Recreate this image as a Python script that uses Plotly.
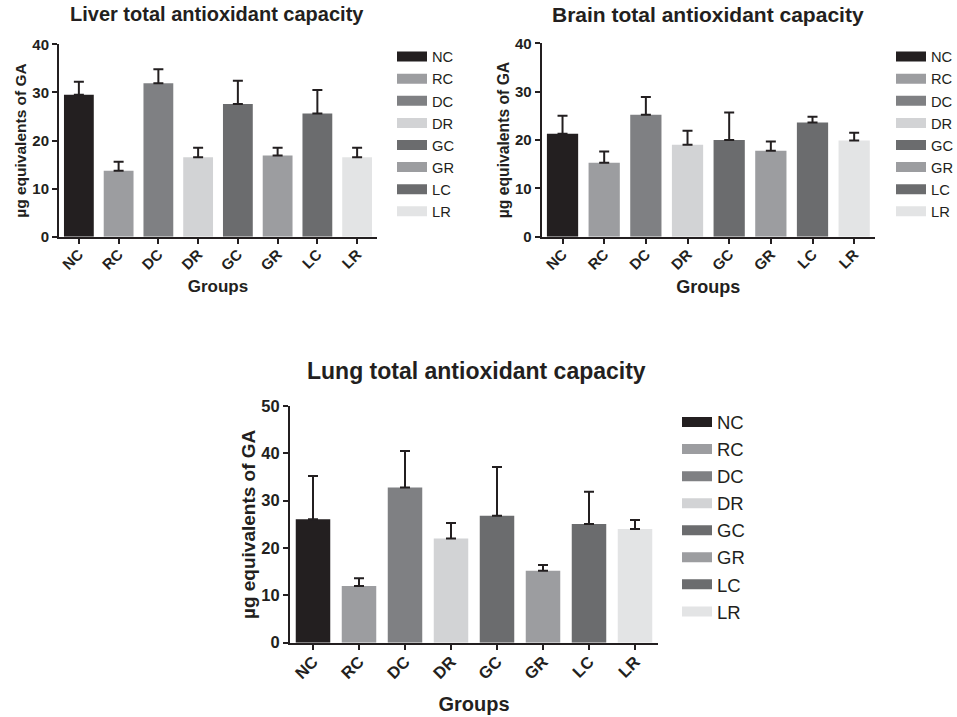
import plotly.graph_objects as go

groups = ["NC", "RC", "DC", "DR", "GC", "GR", "LC", "LR"]
liver_mean = [29.5, 13.7, 31.9, 16.5, 27.6, 16.9, 25.6, 16.5]
liver_err = [2.7, 1.9, 2.9, 2.0, 4.8, 1.6, 4.9, 2.0]
brain_mean = [21.3, 15.3, 25.2, 19.0, 20.0, 17.8, 23.6, 19.9]
brain_err = [3.7, 2.3, 3.7, 2.9, 5.7, 1.9, 1.2, 1.6]
lung_mean = [26.1, 12.0, 32.8, 22.0, 26.8, 15.2, 25.1, 24.0]
lung_err = [9.1, 1.6, 7.7, 3.3, 10.3, 1.2, 6.8, 1.9]
colors = ["#231f20", "#9c9da0", "#7f8083", "#d2d3d5",
          "#6b6c6e", "#9c9da0", "#6b6c6e", "#e3e4e5"]

W, H = 957, 717
INK = "#231f20"
FONT = "Liberation Sans, Arial, sans-serif"

panels = [
    dict(title="Liver total antioxidant capacity", mean=liver_mean, err=liver_err,
         ax="", px=(59, 377), py=(236.7, 44.3), ymax=40,
         tfs=20, tick=15, ytitle=15.5, xtitle=17, leg=14.7, lw=13,
         xstand=8, ystand=2,
         title_xy=(217, 14), legxy=(392, 40.5)),
    dict(title="Brain total antioxidant capacity", mean=brain_mean, err=brain_err,
         ax="2", px=(541.7, 875), py=(236.7, 43.3), ymax=40,
         tfs=21, tick=15, ytitle=15.7, xtitle=18, leg=14.7, lw=13,
         xstand=8, ystand=2,
         title_xy=(708, 14), legxy=(891, 40.5)),
    dict(title="Lung total antioxidant capacity", mean=lung_mean, err=lung_err,
         ax="3", px=(290, 658), py=(642.7, 406), ymax=50,
         tfs=23, tick=16.5, ytitle=19, xtitle=20, leg=18.5, lw=15,
         xstand=15, ystand=1,
         title_xy=(476, 371), legxy=(677, 403.5)),
]

fig = go.Figure()
layout = dict(
    width=W, height=H, margin=dict(l=0, r=0, t=0, b=0, autoexpand=False),
    paper_bgcolor="white", plot_bgcolor="white",
    bargap=0.25, annotations=[],
    font=dict(family=FONT, color=INK),
)

for k, p in enumerate(panels):
    ax = p["ax"]
    xa, ya = "x" + ax, "y" + ax
    legname = "legend" + ax
    fig.add_trace(go.Bar(
        x=groups, y=p["mean"], xaxis=xa, yaxis=ya, showlegend=False,
        marker=dict(color=colors, line=dict(width=0)),
        error_y=dict(type="data", array=p["err"], symmetric=False,
                     arrayminus=[0] * len(groups), color=INK,
                     thickness=2, width=5),
    ))
    for g, c in zip(groups, colors):
        fig.add_trace(go.Scatter(
            x=[None], y=[None], xaxis=xa, yaxis=ya, mode="lines", name=g,
            line=dict(color=c, width=p["lw"]), legend=legname, hoverinfo="skip",
        ))
    x0, x1 = p["px"]
    yb, yt = p["py"]
    layout["xaxis" + ax] = dict(
        domain=[x0 / W, x1 / W], anchor=ya, type="category",
        range=[-0.5, len(groups) - 0.5], automargin=False,
        showline=True, linecolor=INK, linewidth=2, mirror=False,
        ticks="outside", ticklen=5, tickwidth=2, tickcolor=INK,
        ticklabelstandoff=-4,
        tickangle=-45, tickfont=dict(size=p["tick"], family=FONT, color=INK, weight="bold"),
        showgrid=False, zeroline=False, fixedrange=True,
        title=dict(text="Groups", font=dict(size=p["xtitle"], family=FONT, color=INK, weight="bold"),
                   standoff=p["xstand"]),
    )
    layout["yaxis" + ax] = dict(
        domain=[1 - yb / H, 1 - yt / H], anchor=xa, automargin=False,
        range=[0, p["ymax"]], dtick=10,
        showline=True, linecolor=INK, linewidth=2,
        ticks="outside", ticklen=5, tickwidth=2, tickcolor=INK,
        tickfont=dict(size=p["tick"], family=FONT, color=INK, weight="bold"),
        showgrid=False, zeroline=False, fixedrange=True,
        title=dict(text="µg equivalents of GA",
                   font=dict(size=p["ytitle"], family=FONT, color=INK, weight="bold"),
                   standoff=p["ystand"]),
    )
    lx, ly = p["legxy"]
    layout[legname] = dict(
        x=lx / W, y=1 - ly / H, xanchor="left", yanchor="top",
        bgcolor="rgba(0,0,0,0)", borderwidth=0,
        font=dict(size=p["leg"], family=FONT, color=INK),
        itemwidth=30, tracegroupgap=0,
    )
    tx, ty = p["title_xy"]
    layout["annotations"].append(dict(
        text=p["title"], xref="paper", yref="paper", x=tx / W, y=1 - ty / H,
        xanchor="center", yanchor="middle", showarrow=False,
        font=dict(size=p["tfs"], family=FONT, color=INK, weight="bold"),
    ))

fig.update_layout(**layout)
fig.write_html("out.html", config={"displayModeBar": False},
               post_script="document.body.style.margin='0';")
